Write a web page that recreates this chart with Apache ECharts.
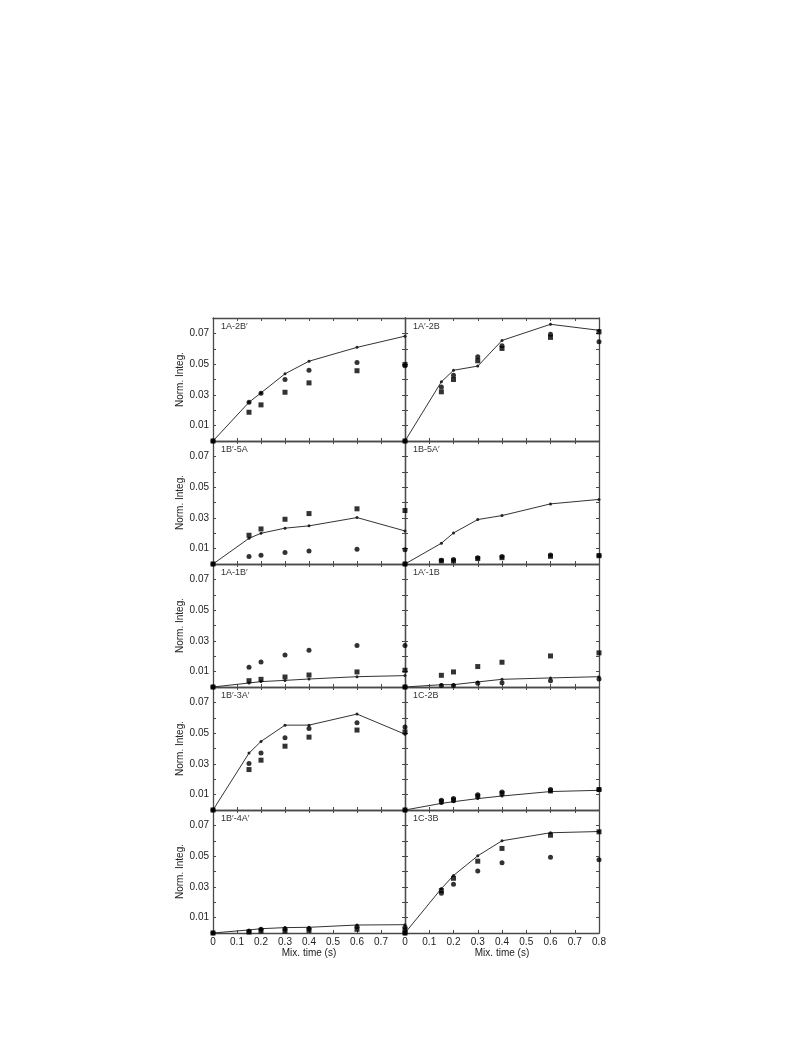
<!DOCTYPE html>
<html>
<head>
<meta charset="utf-8">
<script src="https://cdn.jsdelivr.net/npm/echarts@6/dist/echarts.min.js"></script>
<style>
html,body{margin:0;padding:0;background:#fff;}
#c{width:793px;height:1059px;}
</style>
</head>
<body>
<div id="c"></div>
<script>
// Mixing times (s)
const mixTimes = [0, 0.15, 0.2, 0.3, 0.4, 0.6, 0.8];
const xTicks = [0, 0.1, 0.2, 0.3, 0.4, 0.5, 0.6, 0.7, 0.8];
const yTickLabels = [0.01, 0.03, 0.05, 0.07];

// Panel labels (row by row, left then right)
const panelNames = ["1A-2B\u2032", "1A\u2032-2B", "1B\u2032-5A", "1B-5A\u2032", "1A-1B\u2032",
                    "1A\u2032-1B", "1B\u2032-3A\u2032", "1C-2B", "1B\u2032-4A\u2032", "1C-3B"];

// Simulated curve (line), circles and squares per panel
const line_1A_2Bp = [0, 0.0252, 0.0313, 0.0437, 0.0519, 0.0609, 0.0682];
const circ_1A_2Bp = [0, 0.0252, 0.0310, 0.0400, 0.0460, 0.0510, 0.0490];
const sq_1A_2Bp   = [0, 0.0187, 0.0235, 0.0317, 0.0378, 0.0457, 0.0498];

const line_1Ap_2B = [0, 0.0385, 0.0460, 0.0487, 0.0654, 0.0759, 0.0720];
const circ_1Ap_2B = [0, 0.0352, 0.0428, 0.0548, 0.0620, 0.0695, 0.0646];
const sq_1Ap_2B   = [0, 0.0320, 0.0400, 0.0522, 0.0602, 0.0674, 0.0710];

const line_1Bp_5A = [0, 0.0167, 0.0200, 0.0233, 0.0248, 0.0302, 0.0215];
const circ_1Bp_5A = [0, 0.0048, 0.0057, 0.0074, 0.0085, 0.0096, 0.0093];
const sq_1Bp_5A   = [0, 0.0187, 0.0228, 0.0291, 0.0328, 0.0359, 0.0348];

const line_1B_5Ap = [0, 0.0135, 0.0202, 0.0289, 0.0315, 0.0391, 0.0420];
const circ_1B_5Ap = [0, 0.0025, 0.0030, 0.0040, 0.0048, 0.0058, 0.0055];
const sq_1B_5Ap   = [0, 0.0020, 0.0020, 0.0035, 0.0041, 0.0050, 0.0054];

const line_1A_1Bp = [0, 0.0026, 0.0035, 0.0043, 0.0052, 0.0067, 0.0074];
const circ_1A_1Bp = [0, 0.0128, 0.0163, 0.0208, 0.0239, 0.0270, 0.0270];
const sq_1A_1Bp   = [0, 0.0041, 0.0050, 0.0065, 0.0078, 0.0098, 0.0109];

const line_1Ap_1B = [0, 0.0015, 0.0015, 0.0033, 0.0050, 0.0059, 0.0067];
const circ_1Ap_1B = [0, 0.0010, 0.0010, 0.0024, 0.0028, 0.0041, 0.0052];
const sq_1Ap_1B   = [0, 0.0076, 0.0098, 0.0133, 0.0161, 0.0202, 0.0222];

const line_1Bp_3Ap = [0, 0.0370, 0.0446, 0.0552, 0.0552, 0.0624, 0.0493];
const circ_1Bp_3Ap = [0, 0.0302, 0.0370, 0.0470, 0.0530, 0.0567, 0.0540];
const sq_1Bp_3Ap   = [0, 0.0263, 0.0324, 0.0415, 0.0474, 0.0520, 0.0508];

const line_1C_2B = [0, 0.0043, 0.0054, 0.0074, 0.0091, 0.0120, 0.0128];
const circ_1C_2B = [0, 0.0063, 0.0074, 0.0100, 0.0117, 0.0133, 0.0133];
const sq_1C_2B   = [0, 0.0054, 0.0065, 0.0089, 0.0107, 0.0124, 0.0133];

const line_1Bp_4Ap = [0, 0.0020, 0.0028, 0.0035, 0.0037, 0.0052, 0.0054];
const circ_1Bp_4Ap = [0, 0.0010, 0.0024, 0.0026, 0.0028, 0.0041, 0.0037];
const sq_1Bp_4Ap   = [0, 0.0006, 0.0013, 0.0013, 0.0017, 0.0024, 0.0020];

const line_1C_3B = [0, 0.0289, 0.0374, 0.0502, 0.0600, 0.0652, 0.0660];
const circ_1C_3B = [0, 0.0259, 0.0317, 0.0404, 0.0457, 0.0493, 0.0476];
const sq_1C_3B   = [0, 0.0276, 0.0356, 0.0467, 0.0550, 0.0636, 0.0658];

const panelLines = [line_1A_2Bp, line_1Ap_2B, line_1Bp_5A, line_1B_5Ap, line_1A_1Bp,
                    line_1Ap_1B, line_1Bp_3Ap, line_1C_2B, line_1Bp_4Ap, line_1C_3B];
const panelCircles = [circ_1A_2Bp, circ_1Ap_2B, circ_1Bp_5A, circ_1B_5Ap, circ_1A_1Bp,
                      circ_1Ap_1B, circ_1Bp_3Ap, circ_1C_2B, circ_1Bp_4Ap, circ_1C_3B];
const panelSquares = [sq_1A_2Bp, sq_1Ap_2B, sq_1Bp_5A, sq_1B_5Ap, sq_1A_1Bp,
                      sq_1Ap_1B, sq_1Bp_3Ap, sq_1C_2B, sq_1Bp_4Ap, sq_1C_3B];

// ---- layout ----
const TOP = 318, ROWH = 123;
const COLS = [{left: 213, width: 192}, {left: 405, width: 194}];
const FONT = 'Liberation Sans, Arial, sans-serif';
const FRAME = '#4a4a4a';

const grids = [], xAxes = [], yAxes = [], series = [], titles = [];
const pair = arr => arr.map((v, i) => [mixTimes[i], v]);

panelNames.forEach((name, p) => {
  const row = Math.floor(p / 2), col = p % 2;
  const isBottom = row === 4, isLeft = col === 0;
  const g = p;
  grids.push({left: COLS[col].left, width: COLS[col].width, top: TOP + row * ROWH, height: ROWH});
  const axLine = {show: true, onZero: false, lineStyle: {color: FRAME, width: 1.3}};
  const tick = {show: true, inside: true, length: 3, lineStyle: {color: FRAME, width: 1}};
  // bottom x axis
  xAxes.push({
    type: 'value', gridIndex: g, position: 'bottom', min: 0, max: 0.8, interval: 0.1,
    axisLine: axLine, axisTick: tick, splitLine: {show: false},
    axisLabel: {
      show: isBottom, color: '#222', fontFamily: FONT, fontSize: 10, margin: 4,
      formatter: v => {
        const k = Math.round(v * 10);
        if (isLeft && k === 8) return '';
        return k === 0 ? '0' : (k / 10).toFixed(1);
      }
    },
    name: isBottom ? 'Mix. time (s)' : '', nameLocation: 'middle', nameGap: 13,
    nameTextStyle: {color: '#222', fontFamily: FONT, fontSize: 10}
  });
  // top x axis (frame + ticks)
  xAxes.push({
    type: 'value', gridIndex: g, position: 'top', min: 0, max: 0.8, interval: 0.1,
    axisLine: axLine, axisTick: tick, axisLabel: {show: false}, splitLine: {show: false}
  });
  // left y axis
  yAxes.push({
    type: 'value', gridIndex: g, position: 'left', min: 0, max: 0.08, interval: 0.01,
    axisLine: axLine, axisTick: tick, splitLine: {show: false},
    axisLabel: {
      show: isLeft, color: '#222', fontFamily: FONT, fontSize: 10, margin: 4,
      formatter: v => {
        const k = Math.round(v * 100);
        return yTickLabels.some(t => Math.round(t * 100) === k) ? (k / 100).toFixed(2) : '';
      }
    },
    name: isLeft ? 'Norm. Integ.' : '', nameLocation: 'middle', nameGap: 19, nameRotate: 90,
    nameTextStyle: {color: '#222', fontFamily: FONT, fontSize: 10}
  });
  // right y axis (frame + ticks)
  yAxes.push({
    type: 'value', gridIndex: g, position: 'right', min: 0, max: 0.08, interval: 0.01,
    axisLine: axLine, axisTick: tick, axisLabel: {show: false}, splitLine: {show: false}
  });
  const xi = 2 * p, yi = 2 * p;
  series.push({
    type: 'line', xAxisIndex: xi, yAxisIndex: yi, data: pair(panelLines[p]),
    symbol: 'circle', symbolSize: 3, showSymbol: true, silent: true,
    lineStyle: {color: '#333', width: 1}, itemStyle: {color: '#222'}, z: 2, animation: false
  });
  series.push({
    type: 'scatter', xAxisIndex: xi, yAxisIndex: yi, data: pair(panelCircles[p]),
    symbol: 'circle', symbolSize: 5, itemStyle: {color: '#000'}, z: 3, animation: false
  });
  series.push({
    type: 'scatter', xAxisIndex: xi, yAxisIndex: yi, data: pair(panelSquares[p]),
    symbol: 'rect', symbolSize: 5, itemStyle: {color: '#000'}, z: 3, animation: false
  });
  titles.push({
    text: name, left: COLS[col].left + 8, top: TOP + row * ROWH + 4, padding: 0,
    textStyle: {color: '#333', fontFamily: FONT, fontSize: 9, fontWeight: 'normal'}
  });
});

const chart = echarts.init(document.getElementById('c'), null, {renderer: 'canvas'});
chart.setOption({
  backgroundColor: '#fff',
  animation: false,
  title: titles,
  grid: grids,
  xAxis: xAxes,
  yAxis: yAxes,
  series: series
});
</script>
</body>
</html>
